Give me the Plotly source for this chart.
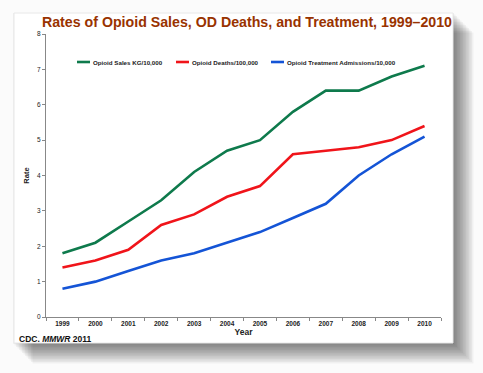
import plotly.graph_objects as go

years = ["1999", "2000", "2001", "2002", "2003", "2004", "2005", "2006", "2007", "2008", "2009", "2010"]
sales = [1.8, 2.1, 2.7, 3.3, 4.1, 4.7, 5.0, 5.8, 6.4, 6.4, 6.8, 7.1]
deaths = [1.4, 1.6, 1.9, 2.6, 2.9, 3.4, 3.7, 4.6, 4.7, 4.8, 5.0, 5.4]
treatment = [0.8, 1.0, 1.3, 1.6, 1.8, 2.1, 2.4, 2.8, 3.2, 4.0, 4.6, 5.1]
series_names = ["Opioid Sales KG/10,000", "Opioid Deaths/100,000", "Opioid Treatment Admissions/10,000"]
series_colors = ["#0E7A4C", "#F0141A", "#1454D6"]
yticks = [0, 1, 2, 3, 4, 5, 6, 7, 8]

W, H = 483, 373
L, R, T, B = 46, 42, 34, 56
pw, ph = W - L - R, H - T - B


def px(x):
    return (x - L) / pw


def py(y):
    return (H - B - y) / ph


fig = go.Figure()
for vals, name, col in zip([sales, deaths, treatment], series_names, series_colors):
    fig.add_trace(go.Scatter(x=years, y=vals, name=name, mode="lines", showlegend=False,
                             line=dict(color=col, width=2.6)))

shapes = []
# drop shadow of the slide
for i in range(14):
    off = 1 + i * 1.5
    shapes.append(dict(type="rect", xref="paper", yref="paper", layer="below",
                       x0=px(12 + off), x1=px(453 + off), y0=py(343 + off), y1=py(12 + off),
                       fillcolor="rgba(0,0,0,0.045)", line=dict(width=0)))
# slide
shapes.append(dict(type="rect", xref="paper", yref="paper", layer="below",
                   x0=px(14), x1=px(453), y0=py(343), y1=py(13),
                   fillcolor="white", line=dict(color="#E8E8E8", width=1)))

# legend (line swatch + label) placed inside the plot, as in the original
annotations = []
leg_x = [77, 176, 271]
for name, col, lx in zip(series_names, series_colors, leg_x):
    shapes.append(dict(type="line", xref="paper", yref="paper",
                       x0=px(lx), x1=px(lx + 13), y0=py(62), y1=py(62),
                       line=dict(color=col, width=2.6)))
    annotations.append(dict(text="<b>" + name + "</b>", xref="paper", yref="paper",
                            x=px(lx + 13.5), y=py(62), xanchor="left", yanchor="middle",
                            showarrow=False, font=dict(size=6.2, color="#222")))

annotations.append(dict(text="<b>CDC. <i>MMWR</i> 2011</b>", xref="paper", yref="paper",
                        x=px(17), y=py(339), xanchor="left", yanchor="middle",
                        showarrow=False, font=dict(size=8.5, color="#111")))

fig.update_layout(
    width=W, height=H,
    margin=dict(l=L, r=R, t=T, b=B, pad=0),
    paper_bgcolor="#FBFBFB",
    plot_bgcolor="white",
    font=dict(family="Arial, Liberation Sans, sans-serif", color="#222"),
    shapes=shapes,
    annotations=annotations,
    title=dict(text="<b>Rates of Opioid Sales, OD Deaths, and Treatment, 1999–2010</b>",
               font=dict(size=14.2, color="#993300"),
               x=247 / W, xanchor="center", y=1 - 22 / H, yanchor="middle"),
    showlegend=False,
    xaxis=dict(type="category", showgrid=False, showline=True, linecolor="#888", linewidth=1,
               ticks="outside", ticklen=3, tickcolor="#888", tickson="boundaries",
               tickfont=dict(size=6.5, color="#222"), range=[-0.5, 11.5],
               title=dict(text="<b>Year</b>", font=dict(size=8.5), standoff=2)),
    yaxis=dict(range=[0, 8], tickvals=yticks, showgrid=False, zeroline=False,
               showline=True, linecolor="#888", linewidth=1,
               ticks="outside", ticklen=3, tickcolor="#888",
               tickfont=dict(size=6.5, color="#222"),
               title=dict(text="<b>Rate</b>", font=dict(size=7.5), standoff=6)),
)
fig.update_xaxes(tickprefix="<b>", ticksuffix="</b>")
fig.update_yaxes(tickprefix="<b>", ticksuffix="</b>")

fig.write_html("out.html", config={"displayModeBar": False},
               post_script="document.body.style.margin='0';document.body.style.overflow='hidden';")
